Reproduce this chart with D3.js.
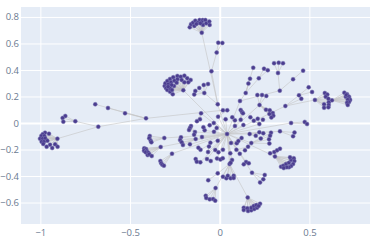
<!DOCTYPE html>
<html>
<head>
<meta charset="utf-8">
<script src="https://cdn.jsdelivr.net/npm/d3@7"></script>
<style>
  html, body { margin: 0; padding: 0; background: #fff; }
  text { font-family: "Open Sans", sans-serif; }
</style>
</head>
<body>
<svg id="chart"></svg>
<script>
const xTicks = [-1, -0.5, 0, 0.5];
const yTicks = [-0.6, -0.4, -0.2, 0, 0.2, 0.4, 0.6, 0.8];

// Branching nodes of the tree, parent is an index into these same arrays
const hubX = [0.041, -0.011, -0.046, -0.017, -0.100, -0.086, -0.203, 0.113, 0.145, 0.218,
  0.335, 0.325, 0.409, 0.222, 0.366, 0.442, 0.531, 0.626, -0.009, 0.018,
  -0.411, -0.677, -0.805, -0.905, 0.221, 0.117, 0.085, 0.398, 0.167, 0.336,
  0.176, 0.308, 0.063, 0.093, 0.055, -0.011, -0.023, 0.156, 0.180, 0.147,
  -0.015, -0.071, -0.108, -0.065, -0.025, -0.107, -0.134, -0.309, -0.329, -0.266,
  -0.104, -0.138, -0.084, -0.033, -0.017];
const hubY = [-0.083, 0.141, 0.390, 0.531, 0.681, 0.226, 0.247, 0.166, 0.226, 0.337,
  0.244, 0.377, 0.330, 0.136, 0.128, 0.209, 0.174, 0.171, 0.048, 0.096,
  0.035, -0.028, 0.013, -0.118, -0.008, 0.025, -0.023, 0, -0.083, -0.063,
  -0.151, -0.253, -0.151, -0.202, -0.309, -0.380, -0.491, -0.562, -0.375, -0.294,
  -0.268, -0.272, -0.297, -0.219, -0.204, -0.202, -0.121, -0.113, -0.181, -0.232,
  0.073, -0.068, -0.055, 0, -0.038];
const hubParent = [null, 0, 1, 2, 1, 1, 0, 0, 7, 8,
  7, 10, 10, 0, 0, 14, 14, 16, 0, 18,
  19, 20, 21, 21, 0, 0, 0, 0, 0, 0,
  0, 0, 0, 0, 0, 34, 34, 34, 0, 0,
  0, 0, 0, 0, 0, 0, 0, 0, 0, 0,
  0, 0, 0, 0, 0];

const topCluster = [[-0.167, 0.722], [-0.160, 0.745], [-0.149, 0.757], [-0.136, 0.772], [-0.142, 0.732],
  [-0.112, 0.777], [-0.123, 0.757], [-0.095, 0.777], [-0.100, 0.762], [-0.080, 0.777], [-0.093, 0.740],
  [-0.075, 0.752], [-0.058, 0.765], [-0.056, 0.740], [-0.108, 0.752], [-0.130, 0.747]];
const leftCluster = [[-0.307, 0.279], [-0.303, 0.300], [-0.292, 0.317], [-0.277, 0.332], [-0.259, 0.345],
  [-0.236, 0.355], [-0.217, 0.349], [-0.197, 0.357], [-0.181, 0.337], [-0.162, 0.325], [-0.175, 0.307],
  [-0.197, 0.307], [-0.212, 0.325], [-0.236, 0.330], [-0.253, 0.319], [-0.272, 0.307], [-0.287, 0.292],
  [-0.299, 0.262], [-0.292, 0.249], [-0.277, 0.236], [-0.262, 0.217], [-0.277, 0.262], [-0.255, 0.279],
  [-0.268, 0.287], [-0.240, 0.304], [-0.288, 0.274], [-0.266, 0.249]];
const farLeftCluster = [[-0.974, -0.073], [-0.952, -0.081], [-0.987, -0.085], [-0.995, -0.098], [-0.978, -0.098],
  [-1.002, -0.118], [-0.987, -0.118], [-0.973, -0.115], [-0.961, -0.134], [-0.993, -0.141], [-0.980, -0.141],
  [-0.984, -0.158], [-0.946, -0.164], [-0.918, -0.161], [-0.965, -0.179], [-0.934, -0.189], [-0.904, -0.179]];
const rightCluster = [[0.586, 0.226], [0.600, 0.214], [0.591, 0.198], [0.606, 0.183], [0.608, 0.156],
  [0.582, 0.141], [0.608, 0.136], [0.582, 0.115], [0.606, 0.118]];
const farRightCluster = [[0.695, 0.229], [0.710, 0.217], [0.703, 0.198], [0.706, 0.211], [0.721, 0.198],
  [0.723, 0.183], [0.727, 0.174], [0.714, 0.176], [0.721, 0.158], [0.710, 0.153], [0.714, 0.136]];
const lowerRightCluster = [[0.281, -0.229], [0.304, -0.219], [0.320, -0.206], [0.336, -0.194], [0.342, -0.330],
  [0.355, -0.322], [0.370, -0.309], [0.386, -0.300], [0.398, -0.279], [0.413, -0.266], [0.416, -0.287],
  [0.392, -0.259], [0.409, -0.309], [0.398, -0.325], [0.386, -0.334], [0.374, -0.334], [0.357, -0.340]];
const bottomCluster = [[0.134, -0.639], [0.134, -0.657], [0.154, -0.644], [0.158, -0.664], [0.176, -0.659],
  [0.176, -0.639], [0.193, -0.649], [0.190, -0.626], [0.208, -0.639], [0.204, -0.619], [0.225, -0.609], [0.217, -0.626]];
const leftLowCluster = [[-0.421, -0.191], [-0.411, -0.196], [-0.422, -0.209], [-0.407, -0.211], [-0.413, -0.221],
  [-0.398, -0.224], [-0.402, -0.242], [-0.393, -0.236], [-0.379, -0.249]];

// Remaining leaves as [hub index, x, y]
const smallLeaves = [
  [3, -0.008, 0.606], [3, 0.015, 0.604],
  [5, -0.142, 0.215], [5, -0.136, 0.242], [5, -0.114, 0.264], [5, -0.089, 0.287], [5, -0.065, 0.294],
  [8, 0.160, 0.297], [8, 0.169, 0.334], [8, 0.187, 0.417],
  [9, 0.247, 0.410], [9, 0.268, 0.398],
  [11, 0.303, 0.451], [11, 0.329, 0.455], [11, 0.353, 0.451],
  [12, 0.465, 0.395],
  [13, 0.210, 0.211], [13, 0.236, 0.211], [13, 0.260, 0.204], [13, 0.258, 0.100], [13, 0.279, 0.096],
  [13, 0.296, 0.075], [13, 0.277, 0.068], [13, 0.299, 0.055], [13, 0.288, 0.042],
  [15, 0.496, 0.269], [15, 0.515, 0.234], [14, 0.455, 0.183],
  [18, 0.042, 0.096],
  [20, -0.528, 0.073], [20, -0.623, 0.113], [20, -0.694, 0.141],
  [22, -0.861, 0.053], [22, -0.876, 0.038], [22, -0.872, 0.010],
  [24, 0.171, 0.043], [24, 0.190, 0.017], [24, 0.212, 0.032], [24, 0.241, 0.025],
  [25, 0.117, 0.098], [25, 0.124, 0.083], [25, 0.130, 0.073],
  [26, 0.085, 0.020], [26, 0.070, 0.043],
  [0, 0.033, 0.028], [0, 0.132, -0.015], [0, -0.011, -0.134], [0, -0.099, -0.106], [0, 0.018, -0.202],
  [0, 0.059, -0.229], [0, 0.069, -0.279], [0, 0.061, -0.300], [0, -0.166, -0.161],
  [27, 0.474, 0.008], [27, 0.487, -0.008],
  [28, 0.201, -0.096], [28, 0.221, -0.070], [28, 0.243, -0.078], [28, 0.229, -0.117],
  [29, 0.417, -0.072], [29, 0.409, -0.100],
  [30, 0.286, -0.073], [30, 0.281, -0.096], [30, 0.275, -0.123], [30, 0.277, -0.155],
  [32, 0.095, -0.153], [32, 0.104, -0.136], [32, 0.122, -0.113],
  [33, 0.112, -0.232], [33, 0.141, -0.206], [33, 0.158, -0.179],
  [34, 0.018, -0.405], [34, 0.037, -0.417], [34, 0.045, -0.398], [34, 0.061, -0.417], [34, 0.078, -0.398], [34, 0.078, -0.415],
  [35, -0.064, -0.432],
  [36, -0.078, -0.549], [36, -0.075, -0.566], [36, -0.056, -0.576], [36, -0.037, -0.574], [36, -0.025, -0.586],
  [38, 0.251, -0.392], [38, 0.243, -0.425], [38, 0.225, -0.448],
  [39, 0.134, -0.312], [39, 0.162, -0.304],
  [40, 0.004, -0.275], [40, 0.017, -0.266],
  [41, -0.050, -0.287],
  [42, -0.134, -0.272], [42, -0.128, -0.292],
  [43, -0.060, -0.177], [43, -0.052, -0.149],
  [44, -0.007, -0.221],
  [45, -0.119, -0.186],
  [46, -0.216, -0.108], [46, -0.221, -0.128], [46, -0.212, -0.146], [46, -0.205, -0.166],
  [47, -0.390, -0.098], [47, -0.393, -0.115], [47, -0.385, -0.134], [47, -0.381, -0.146],
  [49, -0.331, -0.287], [49, -0.326, -0.304], [49, -0.320, -0.315], [49, -0.311, -0.322],
  [50, -0.110, 0.028], [50, -0.127, 0.014],
  [51, -0.160, -0.023], [51, -0.166, -0.038], [51, -0.171, -0.053], [51, -0.143, -0.088],
  [52, -0.091, -0.032], [53, -0.056, -0.017], [54, -0.032, -0.066]
];

const clusterHubs = [[4, topCluster], [6, leftCluster], [23, farLeftCluster], [16, rightCluster],
  [17, farRightCluster], [31, lowerRightCluster], [37, bottomCluster], [48, leftLowCluster]];

// --- Layout ---
const W = 374, H = 250;
const margin = { top: 7, right: 4, bottom: 26, left: 21 };
const width = W - margin.left - margin.right;
const height = H - margin.top - margin.bottom;

const svg = d3.select("#chart").attr("width", W).attr("height", H)
    .style("display", "block");
const g = svg.append("g").attr("transform", `translate(${margin.left},${margin.top})`);

const x = d3.scaleLinear().domain([-1.108, 0.838]).range([0, width]);
const y = d3.scaleLinear().domain([-0.762, 0.875]).range([height, 0]);

g.append("rect").attr("width", width).attr("height", height).attr("fill", "#E5ECF6");

const minus = d => String(d).replace("-", "\u2212");

// --- Axes with gridlines ---
const xAxis = g.append("g").attr("transform", `translate(0,${height})`)
    .call(d3.axisBottom(x).tickValues(xTicks).tickSize(-height).tickPadding(5).tickFormat(minus));
const yAxis = g.append("g")
    .call(d3.axisLeft(y).tickValues(yTicks).tickSize(-width).tickPadding(2).tickFormat(minus));

[xAxis, yAxis].forEach(a => {
    a.select(".domain").remove();
    a.selectAll(".tick line").attr("stroke", "#fff").attr("stroke-width", d => d === 0 ? 2 : 1);
    a.selectAll(".tick text").attr("fill", "#6b7a90").style("font-size", "9.5px");
});

// --- Edges ---
const links = [];
hubX.forEach((hx, i) => {
    if (hubParent[i] !== null) {
        links.push([hx, hubY[i], hubX[hubParent[i]], hubY[hubParent[i]]]);
    }
});
clusterHubs.forEach(([hub, pts]) => {
    pts.forEach(p => links.push([p[0], p[1], hubX[hub], hubY[hub]]));
});
smallLeaves.forEach(l => links.push([l[1], l[2], hubX[l[0]], hubY[l[0]]]));

g.append("g").selectAll("line")
    .data(links)
    .enter().append("line")
    .attr("x1", d => x(d[0]))
    .attr("y1", d => y(d[1]))
    .attr("x2", d => x(d[2]))
    .attr("y2", d => y(d[3]))
    .attr("stroke", "#c4c4c4")
    .attr("stroke-opacity", 0.75)
    .attr("stroke-width", 0.8);

// --- Nodes ---
const nodes = hubX.map((hx, i) => [hx, hubY[i]])
    .concat(...clusterHubs.map(c => c[1]))
    .concat(smallLeaves.map(l => [l[1], l[2]]));

g.append("g").selectAll("circle")
    .data(nodes)
    .enter().append("circle")
    .attr("cx", d => x(d[0]))
    .attr("cy", d => y(d[1]))
    .attr("r", 2)
    .attr("fill", "#4b3d8f")
    .attr("stroke", "#7d78b5")
    .attr("stroke-width", 0.5);
</script>
</body>
</html>
